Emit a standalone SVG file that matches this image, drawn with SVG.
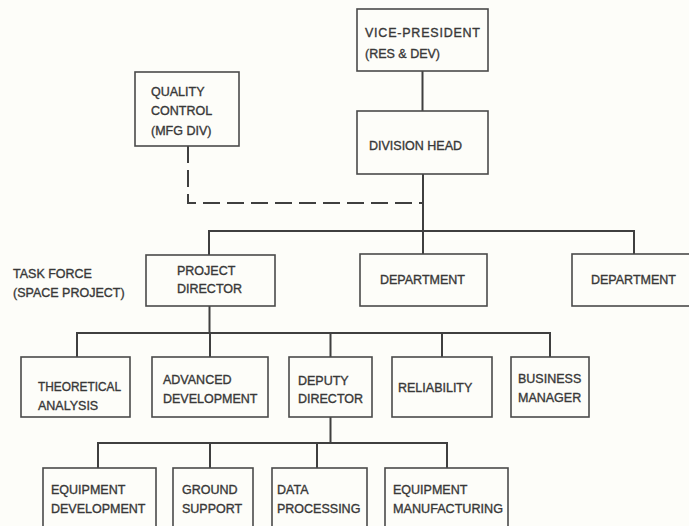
<svg xmlns="http://www.w3.org/2000/svg" width="689" height="526" viewBox="0 0 689 526">
<style>
.bg{fill:#fdfdf9}
.box{fill:#fdfdf9;stroke:#4a4a4a;stroke-width:1.6}
.ln{fill:none;stroke:#3f3f3f;stroke-width:2}
.dash{stroke-dasharray:17 7}
.t{font-family:"Liberation Sans",Arial,sans-serif;font-size:12.5px;fill:#383838;stroke:#383838;stroke-width:0.35}
</style>
<rect class="bg" x="0" y="0" width="689" height="526"/>
<g id="connectors">
<path class="ln" d="M422.5 71V111"/>
<path class="ln" d="M423 174V231"/>
<path class="ln dash" d="M188 146V203H423"/>
<path class="ln" d="M209 255V231H634V255M423 231V255"/>
<path class="ln" d="M209.5 306V333"/>
<path class="ln" d="M77 357V333H550V357M210 333V357M330.5 333V357M442 333V357"/>
<path class="ln" d="M330.5 417V443"/>
<path class="ln" d="M98 468V443H447V468M210 443V468M317 443V468"/>
</g>
<g id="vp"><rect class="box" x="357" y="9" width="131" height="62"/><text class="t" x="365" y="37" textLength="115" lengthAdjust="spacing">VICE-PRESIDENT</text><text class="t" x="365" y="58">(RES &amp; DEV)</text></g>
<g id="dh"><rect class="box" x="357" y="111" width="131" height="63"/><text class="t" x="369" y="150">DIVISION HEAD</text></g>
<g id="qc"><rect class="box" x="135" y="72" width="104" height="74"/><text class="t" x="151" y="96">QUALITY</text><text class="t" x="151" y="115">CONTROL</text><text class="t" x="151" y="135">(MFG DIV)</text></g>
<g id="taskforce"><text class="t" x="13" y="278">TASK FORCE</text><text class="t" x="13" y="297">(SPACE PROJECT)</text></g>
<g id="pd"><rect class="box" x="146" y="255" width="129" height="51"/><text class="t" x="177" y="275">PROJECT</text><text class="t" x="177" y="293">DIRECTOR</text></g>
<g id="dept1"><rect class="box" x="360" y="254" width="127" height="52"/><text class="t" x="380" y="284">DEPARTMENT</text></g>
<g id="dept2"><rect class="box" x="572" y="254" width="127" height="52"/><text class="t" x="591" y="284">DEPARTMENT</text></g>
<g id="ta"><rect class="box" x="21" y="357" width="109" height="60"/><text class="t" x="38" y="391" textLength="83" lengthAdjust="spacingAndGlyphs">THEORETICAL</text><text class="t" x="38" y="410">ANALYSIS</text></g>
<g id="ad"><rect class="box" x="152" y="357" width="116" height="60"/><text class="t" x="163" y="384">ADVANCED</text><text class="t" x="163" y="403">DEVELOPMENT</text></g>
<g id="dd"><rect class="box" x="289" y="357" width="83" height="60"/><text class="t" x="298" y="385">DEPUTY</text><text class="t" x="298" y="403">DIRECTOR</text></g>
<g id="rel"><rect class="box" x="392" y="357" width="100" height="60"/><text class="t" x="398" y="392">RELIABILITY</text></g>
<g id="bm"><rect class="box" x="511" y="357" width="78" height="60"/><text class="t" x="518" y="383">BUSINESS</text><text class="t" x="518" y="402">MANAGER</text></g>
<g id="ed"><rect class="box" x="43" y="468" width="113" height="64"/><text class="t" x="51" y="494">EQUIPMENT</text><text class="t" x="51" y="513">DEVELOPMENT</text></g>
<g id="gs"><rect class="box" x="173" y="468" width="80" height="64"/><text class="t" x="182" y="494">GROUND</text><text class="t" x="182" y="513">SUPPORT</text></g>
<g id="dp"><rect class="box" x="272" y="468" width="95" height="64"/><text class="t" x="277" y="494">DATA</text><text class="t" x="277" y="513">PROCESSING</text></g>
<g id="em"><rect class="box" x="385" y="468" width="123" height="64"/><text class="t" x="393" y="494">EQUIPMENT</text><text class="t" x="393" y="513" textLength="110" lengthAdjust="spacingAndGlyphs">MANUFACTURING</text></g>
</svg>
